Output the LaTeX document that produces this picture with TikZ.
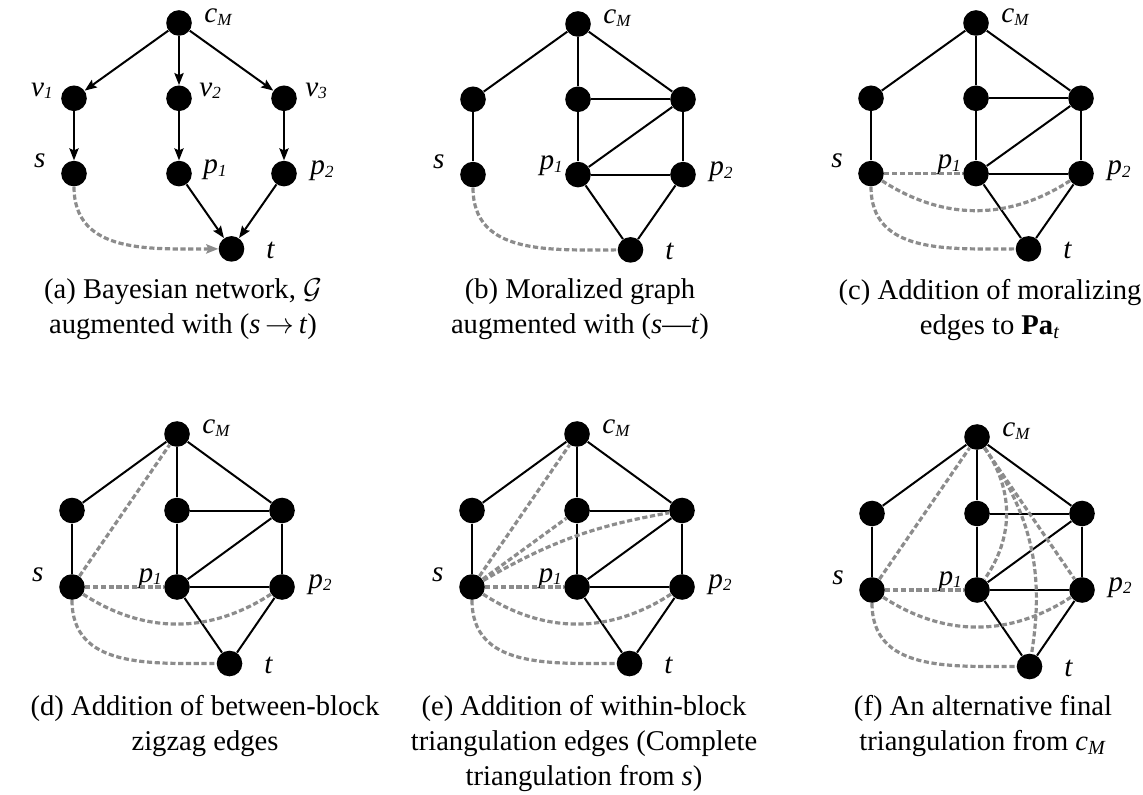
\documentclass[tikz,border=0pt]{standalone}
\usepackage{fontspec}
\setmainfont{Liberation Serif}
\usepackage{tikz}
\usetikzlibrary{arrows.meta, positioning}
\definecolor{dashgray}{RGB}{140,140,140}
\tikzset{
  vertex/.style={circle, fill=black, inner sep=0pt, minimum size=12.8pt},
  edge_line/.style={-, line width=1pt, black},
  edge_arrow/.style={-{Stealth[length=6pt, width=4.6pt, inset=1pt]}, line width=1pt, black},
  dashed_edge/.style={dashgray, line width=1.6pt, dash pattern=on 2.6pt off 1.3pt},
  vlabel/.style={font=\fontsize{14.6}{16}\selectfont, inner sep=0pt},
  caption_text/.style={font=\fontsize{14.3}{17.5}\selectfont, align=center, inner sep=0pt, anchor=north}
}
\newcommand{\lbl}[2]{\textit{#1}\raisebox{-1.3pt}{\fontsize{8.5}{9}\selectfont\textit{#2}}}

\begin{document}
\begin{tikzpicture}[x=0.5pt, y=0.5pt]
  \useasboundingbox (0,0) rectangle (1143,-795);

  % --- Vertices and shared labels of the six panels ---
  \foreach \p/\px/\py/\dy in {a/179/-23/75.3, b/578/-24/75.3, c/976/-23/75.3,
                              d/177/-434/76.5, e/577/-434/76.5, f/977/-437/76.5} {
    \begin{scope}[shift={(\px,\py)}]
      \node[vertex] (\p-cM) at (0,0) {};
      \node[vertex] (\p-v1) at (-105,-\dy) {};
      \node[vertex] (\p-v2) at (0,-\dy) {};
      \node[vertex] (\p-v3) at (105,-\dy) {};
      \node[vertex] (\p-s)  at (-105,{-2*\dy}) {};
      \node[vertex] (\p-p1) at (0,{-2*\dy}) {};
      \node[vertex] (\p-p2) at (105,{-2*\dy}) {};
      \node[vertex] (\p-t)  at (52.5,{-3*\dy}) {};

      \node[vlabel, anchor=base west] (\p-cM-lbl) at (25,0) {\lbl{c}{M}};
      \node[vlabel, anchor=base east] (\p-s-lbl)  at (-133,{-2*\dy+6}) {\textit{s}};
      \node[vlabel, anchor=base west] (\p-p2-lbl) at (131,{-2*\dy-1}) {\lbl{p}{2}};
      \node[vlabel, anchor=base west] (\p-t-lbl)  at (87,{-3*\dy-10}) {\textit{t}};
    \end{scope}
  }

  % --- Labels only in (a) ---
  \node[vlabel, anchor=base east] (a-v1-lbl) at ([xshift=-10.5pt, yshift=1pt]a-v1.center) {\lbl{v}{1}};
  \node[vlabel, anchor=base west] (a-v2-lbl) at ([xshift=10pt, yshift=1pt]a-v2.center) {\lbl{v}{2}};
  \node[vlabel, anchor=base west] (a-v3-lbl) at ([xshift=10.5pt, yshift=1pt]a-v3.center) {\lbl{v}{3}};
  \node[vlabel, anchor=base west] (a-p1-lbl) at ([xshift=12pt]a-p1.center) {\lbl{p}{1}};

  % --- p1 sits left of its vertex in (b)-(f) ---
  \foreach \p in {b,...,f}
    \node[vlabel, anchor=base east] (\p-p1-lbl) at ([xshift=-7.5pt, yshift=2.5pt]\p-p1.center) {\lbl{p}{1}};

  % --- (a) Bayesian network ---
  \foreach \u/\w in {cM/v1, cM/v2, cM/v3, v1/s, v2/p1, v3/p2, p1/t, p2/t}
    \draw[edge_arrow] (a-\u) -- (a-\w);
  \draw[dashed_edge, -{Stealth[length=6pt, width=4.6pt, inset=1pt]}] (a-s) to[out=-90, in=180, looseness=1.1] (a-t);

  % --- Moralized skeleton, (b)-(f) ---
  \foreach \p in {b,...,f} {
    \foreach \u/\w in {cM/v1, cM/v2, cM/v3, v1/s, v2/p1, v3/p2, v2/v3, v3/p1, p1/p2, p1/t, p2/t}
      \draw[edge_line] (\p-\u) -- (\p-\w);
    \draw[dashed_edge] (\p-s) to[out=-90, in=180, looseness=1.1] (\p-t);
  }

  % --- Moralizing edges to Pa_t ---
  \foreach \p in {c,...,f} {
    \draw[dashed_edge] (\p-s) -- (\p-p1);
    \draw[dashed_edge] (\p-s) to[bend right=33] (\p-p2);
  }

  % --- Zigzag and triangulation edges ---
  \foreach \p in {d,e,f}
    \draw[dashed_edge] (\p-s) -- (\p-cM);
  \draw[dashed_edge] (e-s) -- (e-v2);
  \draw[dashed_edge] (e-s) to[bend left=10] (e-v3);
  \draw[dashed_edge] (f-cM) to[bend left=35] (f-p1);
  \draw[dashed_edge] (f-cM) to[bend left=22] (f-t);
  \draw[dashed_edge] (f-cM) -- (f-p2);

  % --- Captions ---
  \node[caption_text] (a-cap) at (183,-278.5) {(a) Bayesian network, $\mathcal{G}$\\augmented with (\textit{s}\,$\rightarrow$\,\textit{t})};
  \node[caption_text] (b-cap) at (580,-278.5) {(b) Moralized graph\\augmented with (\textit{s}---\textit{t})};
  \node[caption_text] (c-cap) at (990,-278.5) {(c) Addition of moralizing\\edges to \textbf{Pa}\textsubscript{\textit{t}}};
  \node[caption_text] (d-cap) at (205,-694.5) {(d) Addition of between-block\\zigzag edges};
  \node[caption_text] (e-cap) at (584,-694.5) {(e) Addition of within-block\\triangulation edges (Complete\\triangulation from \textit{s})};
  \node[caption_text] (f-cap) at (983,-694.5) {(f) An alternative final\\triangulation from \textit{c}\textsubscript{\textit{M}}};
\end{tikzpicture}
\end{document}
